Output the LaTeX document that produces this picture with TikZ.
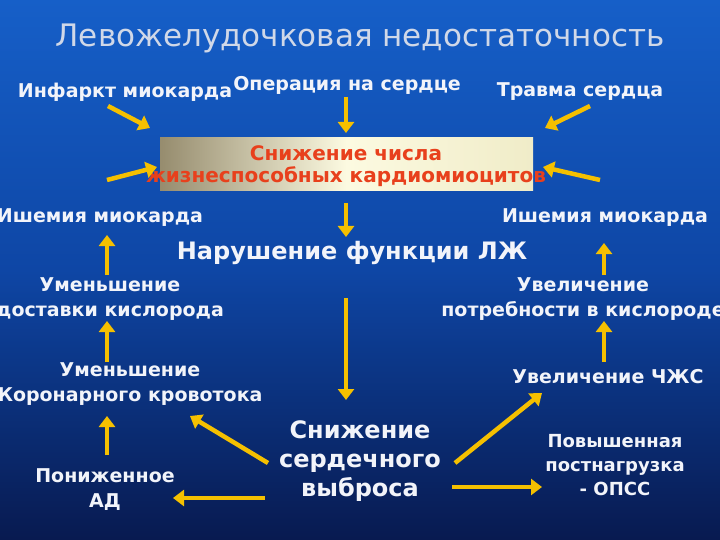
\documentclass[tikz,border=0pt]{standalone}
\usepackage{fontspec}
\setmainfont{DejaVu Sans}
\usetikzlibrary{arrows.meta}
\definecolor{ylw}{HTML}{F5C000}
\definecolor{txt}{HTML}{F2F4FA}
\definecolor{ttl}{HTML}{D0D8E8}
\definecolor{redt}{HTML}{E8401C}
\tikzset{
  lab/.style={text=txt,font=\bfseries\fontsize{19}{25}\selectfont,align=center,inner sep=0pt},
  arr/.style={draw=ylw,line width=4.5pt,-{Triangle[length=11pt,width=16pt]}},
}
\begin{document}
\begin{tikzpicture}[x=1pt,y=-1pt]
\useasboundingbox (0,0) rectangle (720,540);
\shade[top color={rgb,255:red,22;green,95;blue,200}, bottom color={rgb,255:red,8;green,26;blue,80}, middle color={rgb,255:red,14;green,70;blue,165}] (0,0) rectangle (720,540);
\node[text=ttl,font=\fontsize{31}{33}\selectfont,inner sep=0pt] (title) at (360,38) {Левожелудочковая недостаточность};
\node[lab] (inf) at (125,92) {Инфаркт миокарда};
\node[lab] (op) at (347,85) {Операция на сердце};
\node[lab] (tr) at (580,92) {Травма сердца};
\shade[left color={rgb,255:red,150;green,140;blue,110}, right color={rgb,255:red,240;green,236;blue,200}, middle color={rgb,255:red,252;green,250;blue,225}] (160,138) rectangle (533,191);
\node[font=\bfseries\fontsize{20}{22}\selectfont,text=redt,align=center,inner sep=0pt] (box) at (346,166) {Снижение числа\\жизнеспособных кардиомиоцитов};
\node[lab] (ishl) at (100,218) {Ишемия миокарда};
\node[lab] (ishr) at (605,218) {Ишемия миокарда};
\node[lab,font=\bfseries\fontsize{24}{26}\selectfont] (lzh) at (352,253) {Нарушение функции ЛЖ};
\node[lab] (umd) at (110,299) {Уменьшение\\доставки кислорода};
\node[lab] (uvp) at (583,299) {Увеличение\\потребности в кислороде};
\node[lab] (umk) at (130,384) {Уменьшение\\Коронарного кровотока};
\node[lab] (chss) at (608,377) {Увеличение ЧЖС};
\node[lab] (ad) at (105,490) {Пониженное\\АД};
\node[lab,font=\bfseries\fontsize{24}{29}\selectfont] (sv) at (360,461) {Снижение\\сердечного\\выброса};
\node[lab,font=\bfseries\fontsize{18}{24}\selectfont] (ops) at (615,465) {Повышенная\\постнагрузка\\- ОПСС};
\foreach \n/\a/\b/\c/\d in {a1/108/106/150/128, a2/346/97/346/133, a3/590/106/545/128, a4/107/180/157/167, a5/600/180/543/167, a6/346/203/346/237, a7/107/275/107/235, a8/604/275/604/243, a9/107/362/107/321, a10/604/362/604/321, a11/346/298/346/400, a12/107/455/107/416, a13/268/463/190/416, a14/265/498/173/498, a15/455/463/542/393, a16/452/487/542/487}{
  \coordinate (\n s) at (\a,\b);
  \coordinate (\n e) at (\c,\d);
  \draw[arr] (\n s) -- (\n e);
}
\end{tikzpicture}
\end{document}
